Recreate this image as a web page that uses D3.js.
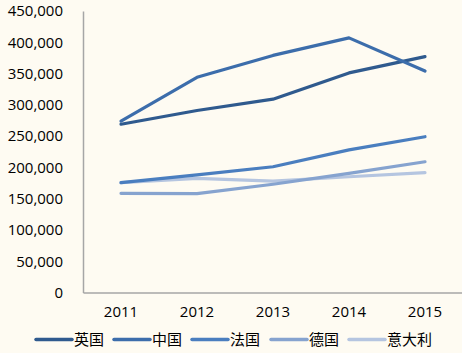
<!DOCTYPE html>
<html><head><meta charset="utf-8">
<script src="https://cdn.jsdelivr.net/npm/d3@7"></script>
<style>body{margin:0;background:#fefbf2;}svg{display:block;}</style>
</head><body>
<script>
const years = ["2011","2012","2013","2014","2015"];
const seriesNames = ["英国","中国","法国","德国","意大利"];
const ukValues = [269000, 291000, 309000, 351000, 377000];
const cnValues = [274000, 344000, 379000, 407000, 354000];
const frValues = [175500, 188000, 201000, 228000, 249000];
const deValues = [158500, 158000, 173000, 190500, 209000];
const itValues = [175500, 182500, 178000, 185000, 191500];
const yTicks = [0,50000,100000,150000,200000,250000,300000,350000,400000,450000];
const colors = ["#2f5a8e","#3c6dab","#4a7ebf","#86a3cf","#b5c5e0"];

const series = [ukValues, cnValues, frValues, deValues, itValues];
const W = 462, H = 353;
const svg = d3.select("body").append("svg").attr("width", W).attr("height", H);
svg.append("rect").attr("width", W).attr("height", H).attr("fill", "#fefbf2");

const x = d3.scaleBand().domain(years).range([83, 463]);
const y = d3.scaleLinear().domain([0, 450000]).range([292.5, 11]);
const font = "'Open Sans', sans-serif";

// axes
const yAxis = svg.append("g").attr("transform", "translate(83,0)")
  .call(d3.axisLeft(y).tickValues(yTicks).tickSize(0).tickPadding(20).tickFormat(d3.format(",")));
yAxis.select(".domain").attr("stroke", "#a6a6a6").attr("stroke-width", 1.5);
yAxis.selectAll("text").attr("font-family", font).attr("font-size", 15).attr("fill", "#000");

const xAxis = svg.append("g").attr("transform", "translate(0,292.5)")
  .call(d3.axisBottom(x).tickSize(0).tickPadding(14));
xAxis.select(".domain").attr("stroke", "#a6a6a6").attr("stroke-width", 1.5);
xAxis.selectAll("text").attr("font-family", font).attr("font-size", 15).attr("fill", "#000");

const line = d3.line().x((d, i) => x(years[i]) + x.bandwidth() / 2).y(d => y(d));
// draw lighter first so darker ones on top like reference
const order = [4, 3, 2, 0, 1];
order.forEach(k => {
  svg.append("path").datum(series[k]).attr("d", line)
    .attr("fill", "none").attr("stroke", colors[k]).attr("stroke-width", 3.2)
    .attr("stroke-linecap", "round").attr("stroke-linejoin", "round");
});

// legend
const legendX = [36, 114, 192, 271, 349];
const lg = svg.append("g");
seriesNames.forEach((n, i) => {
  lg.append("line").attr("x1", legendX[i]).attr("x2", legendX[i] + 36)
    .attr("y1", 339.5).attr("y2", 339.5).attr("stroke", colors[i]).attr("stroke-width", 3.5)
    .attr("stroke-linecap", "round");
  lg.append("text").attr("x", legendX[i] + 38).attr("y", 339.5).attr("dy", "0.35em")
    .attr("font-family", "'Noto Sans CJK SC', sans-serif").attr("font-size", 15).attr("fill", "#000").text(n);
});
</script>
</body></html>
